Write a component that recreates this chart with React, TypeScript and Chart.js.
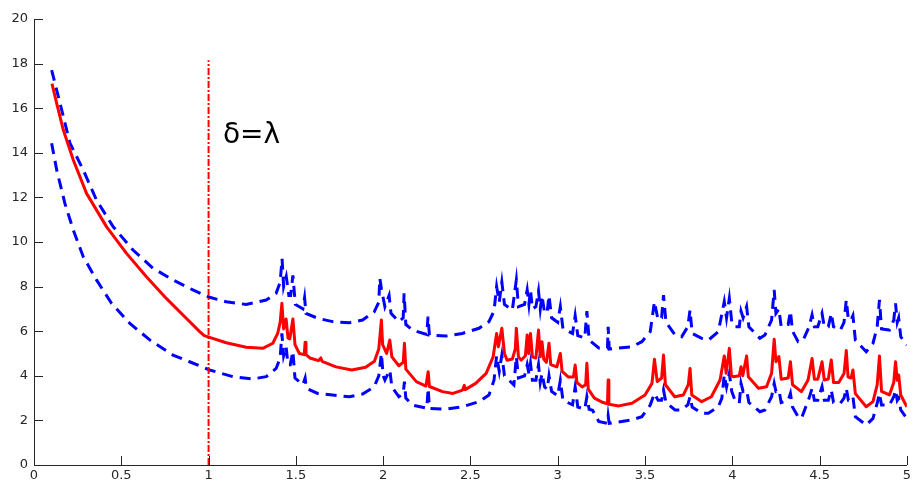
import React, { useEffect, useRef } from "react";
import { Chart, registerables } from "chart.js";

Chart.register(...registerables);

// ---- Data ----
const redX = [0.103, 0.13, 0.168, 0.225, 0.301, 0.415, 0.53, 0.644, 0.758, 0.872, 0.949, 0.975, 1.006, 1.101, 1.215, 1.31, 1.368, 1.396, 1.41, 1.42, 1.43, 1.444, 1.455, 1.465, 1.483, 1.495, 1.52, 1.548, 1.553, 1.558, 1.58, 1.63, 1.643, 1.65, 1.73, 1.82, 1.90, 1.95, 1.975, 1.99, 1.997, 2.02, 2.038, 2.05, 2.09, 2.115, 2.122, 2.13, 2.19, 2.245, 2.258, 2.265, 2.34, 2.40, 2.455, 2.465, 2.47, 2.53, 2.59, 2.63, 2.65, 2.66, 2.68, 2.695, 2.71, 2.74, 2.757, 2.763, 2.775, 2.79, 2.815, 2.825, 2.833, 2.844, 2.855, 2.875, 2.89, 2.90, 2.91, 2.92, 2.935, 2.95, 2.96, 2.995, 3.015, 3.025, 3.06, 3.09, 3.10, 3.11, 3.14, 3.16, 3.167, 3.175, 3.21, 3.26, 3.285, 3.289, 3.293, 3.35, 3.425, 3.50, 3.54, 3.554, 3.57, 3.595, 3.606, 3.617, 3.67, 3.72, 3.748, 3.758, 3.768, 3.825, 3.88, 3.93, 3.954, 3.965, 3.983, 3.995, 4.006, 4.04, 4.05, 4.06, 4.082, 4.092, 4.15, 4.196, 4.225, 4.24, 4.25, 4.267, 4.28, 4.32, 4.333, 4.345, 4.396, 4.434, 4.457, 4.47, 4.49, 4.514, 4.527, 4.55, 4.567, 4.58, 4.61, 4.64, 4.653, 4.663, 4.68, 4.691, 4.705, 4.767, 4.806, 4.83, 4.843, 4.855, 4.90, 4.925, 4.935, 4.945, 4.953, 4.965, 5.00];
const redY = [17.1, 16.22, 15.02, 13.68, 12.18, 10.69, 9.49, 8.44, 7.47, 6.58, 5.98, 5.8, 5.72, 5.48, 5.28, 5.23, 5.46, 5.9, 6.4, 7.25, 6.1, 6.55, 5.7, 5.65, 6.55, 5.4, 5.0, 4.95, 5.5, 4.95, 4.8, 4.68, 4.8, 4.65, 4.4, 4.26, 4.38, 4.65, 5.2, 6.5, 5.4, 5.0, 5.6, 4.85, 4.45, 4.6, 5.46, 4.3, 3.74, 3.54, 4.18, 3.52, 3.29, 3.21, 3.36, 3.57, 3.38, 3.66, 4.11, 4.85, 5.9, 5.3, 6.13, 5.0, 4.7, 4.75, 5.2, 6.13, 4.85, 4.7, 4.9, 5.83, 5.0, 5.9, 4.85, 4.8, 6.05, 4.85, 5.53, 4.75, 4.6, 5.46, 4.5, 4.4, 5.0, 4.2, 3.95, 3.95, 4.48, 3.7, 3.5, 3.6, 4.56, 3.4, 3.0, 2.8, 2.75, 3.81, 2.72, 2.65, 2.77, 3.14, 3.66, 4.74, 3.74, 3.9, 4.93, 3.6, 3.06, 3.14, 3.6, 4.33, 3.14, 2.84, 3.06, 3.81, 4.89, 4.11, 5.23, 4.0, 3.96, 4.0, 4.41, 4.0, 4.89, 3.96, 3.44, 3.51, 4.11, 5.64, 4.63, 4.86, 3.85, 3.9, 4.63, 3.6, 3.29, 3.81, 4.78, 3.85, 3.85, 4.63, 3.81, 3.85, 4.71, 3.7, 3.7, 4.1, 5.13, 3.95, 3.9, 4.26, 3.2, 2.61, 2.84, 3.59, 4.89, 3.3, 3.14, 3.7, 4.63, 3.8, 4.04, 3.14, 2.61];

const upperX = [0.101, 0.149, 0.206, 0.282, 0.358, 0.453, 0.567, 0.682, 0.796, 0.91, 1.006, 1.101, 1.215, 1.33, 1.387, 1.41, 1.421, 1.43, 1.445, 1.46, 1.47, 1.483, 1.497, 1.54, 1.55, 1.558, 1.625, 1.71, 1.806, 1.882, 1.949, 1.975, 1.981, 1.99, 2.01, 2.034, 2.045, 2.09, 2.115, 2.12, 2.13, 2.167, 2.25, 2.257, 2.265, 2.358, 2.453, 2.549, 2.606, 2.635, 2.65, 2.665, 2.68, 2.695, 2.74, 2.763, 2.775, 2.81, 2.825, 2.835, 2.844, 2.855, 2.875, 2.89, 2.90, 2.91, 2.925, 2.94, 2.95, 2.965, 3.00, 3.015, 3.03, 3.085, 3.10, 3.115, 3.155, 3.167, 3.18, 3.235, 3.285, 3.289, 3.295, 3.425, 3.482, 3.53, 3.554, 3.575, 3.595, 3.606, 3.62, 3.672, 3.71, 3.745, 3.758, 3.77, 3.825, 3.863, 3.92, 3.954, 3.967, 3.983, 3.997, 4.015, 4.04, 4.05, 4.062, 4.082, 4.095, 4.158, 4.187, 4.225, 4.24, 4.25, 4.267, 4.28, 4.32, 4.333, 4.345, 4.377, 4.406, 4.44, 4.457, 4.47, 4.49, 4.514, 4.527, 4.55, 4.567, 4.58, 4.619, 4.64, 4.653, 4.665, 4.68, 4.691, 4.705, 4.767, 4.806, 4.83, 4.843, 4.855, 4.90, 4.925, 4.935, 4.945, 4.953, 4.965, 5.00];
const upperY = [17.71, 16.22, 14.43, 13.23, 11.88, 10.69, 9.64, 8.82, 8.3, 7.85, 7.52, 7.32, 7.2, 7.4, 7.7, 8.2, 9.25, 8.0, 8.45, 7.6, 7.6, 8.5, 7.2, 7.0, 7.5, 6.8, 6.58, 6.43, 6.38, 6.5, 6.87, 7.3, 8.37, 7.9, 7.1, 7.6, 6.8, 6.43, 6.6, 7.7, 6.3, 6.05, 5.85, 6.65, 5.83, 5.78, 5.9, 6.13, 6.43, 6.9, 8.0, 7.3, 8.2, 7.2, 6.95, 8.3, 7.1, 7.2, 7.85, 7.2, 7.85, 7.0, 7.1, 7.8, 7.0, 7.6, 6.8, 6.9, 7.6, 6.6, 6.4, 7.1, 6.1, 5.9, 6.7, 5.8, 5.7, 6.9, 5.6, 5.25, 5.25, 6.2, 5.2, 5.3, 5.53, 5.98, 7.32, 6.5, 6.6, 7.62, 6.4, 5.83, 5.75, 6.2, 6.95, 5.9, 5.68, 5.6, 5.98, 7.32, 6.6, 7.47, 6.4, 6.2, 6.2, 6.9, 6.6, 7.1, 6.2, 5.68, 5.83, 6.5, 7.85, 6.8, 7.0, 6.2, 6.3, 6.9, 6.0, 5.53, 5.6, 6.2, 6.73, 6.2, 6.2, 6.8, 6.2, 6.2, 6.8, 6.2, 6.05, 6.4, 7.4, 6.5, 6.5, 6.7, 5.6, 5.08, 5.46, 6.2, 7.4, 6.1, 6.05, 6.5, 7.25, 6.4, 6.6, 5.75, 5.38];

const lowerX = [0.101, 0.13, 0.177, 0.225, 0.282, 0.358, 0.444, 0.549, 0.663, 0.796, 0.891, 1.006, 1.139, 1.253, 1.33, 1.387, 1.41, 1.42, 1.43, 1.444, 1.455, 1.468, 1.483, 1.495, 1.54, 1.553, 1.56, 1.625, 1.71, 1.806, 1.882, 1.949, 1.975, 1.99, 2.00, 2.01, 2.038, 2.05, 2.09, 2.115, 2.122, 2.13, 2.167, 2.25, 2.258, 2.265, 2.358, 2.453, 2.549, 2.606, 2.635, 2.65, 2.665, 2.68, 2.695, 2.749, 2.763, 2.775, 2.81, 2.825, 2.835, 2.844, 2.855, 2.875, 2.89, 2.90, 2.91, 2.925, 2.94, 2.95, 2.965, 3.00, 3.015, 3.03, 3.085, 3.10, 3.115, 3.155, 3.167, 3.18, 3.20, 3.235, 3.285, 3.289, 3.295, 3.425, 3.482, 3.53, 3.554, 3.575, 3.595, 3.606, 3.62, 3.672, 3.71, 3.745, 3.758, 3.77, 3.825, 3.863, 3.92, 3.94, 3.954, 3.967, 3.983, 3.997, 4.015, 4.04, 4.05, 4.062, 4.082, 4.095, 4.158, 4.187, 4.225, 4.24, 4.25, 4.267, 4.28, 4.32, 4.333, 4.345, 4.377, 4.396, 4.44, 4.457, 4.47, 4.49, 4.514, 4.527, 4.55, 4.567, 4.58, 4.619, 4.64, 4.653, 4.665, 4.68, 4.691, 4.705, 4.767, 4.806, 4.83, 4.843, 4.855, 4.90, 4.925, 4.935, 4.945, 4.953, 4.965, 5.00];
const lowerY = [14.43, 13.23, 11.73, 10.54, 9.34, 8.3, 7.25, 6.35, 5.61, 4.93, 4.63, 4.26, 3.96, 3.86, 3.96, 4.33, 4.8, 5.9, 4.9, 5.3, 4.5, 4.5, 5.1, 3.9, 3.6, 3.9, 3.44, 3.21, 3.14, 3.06, 3.18, 3.51, 4.0, 5.0, 4.0, 3.81, 4.26, 3.5, 3.06, 3.2, 3.74, 3.0, 2.69, 2.55, 3.44, 2.54, 2.5, 2.61, 2.84, 3.14, 3.8, 4.9, 4.2, 4.93, 4.0, 3.59, 4.86, 3.9, 4.0, 4.5, 4.1, 4.56, 3.8, 3.8, 4.5, 3.7, 4.1, 3.5, 3.4, 4.0, 3.3, 3.1, 3.8, 2.9, 2.7, 3.5, 2.6, 2.5, 3.06, 2.5, 2.45, 1.95, 1.87, 2.2, 1.87, 2.02, 2.17, 2.69, 3.21, 2.9, 2.9, 3.36, 2.8, 2.47, 2.47, 2.7, 3.06, 2.6, 2.32, 2.32, 2.61, 2.99, 4.04, 3.5, 4.11, 3.3, 2.91, 2.77, 3.66, 3.3, 3.36, 2.8, 2.39, 2.47, 3.06, 3.66, 3.3, 3.36, 2.8, 2.9, 3.21, 2.6, 2.17, 2.09, 3.0, 3.44, 2.9, 2.9, 3.51, 2.9, 2.9, 3.36, 2.8, 2.77, 3.0, 3.44, 2.9, 2.9, 3.06, 2.17, 1.79, 2.09, 2.77, 3.21, 2.69, 2.69, 3.06, 3.36, 2.9, 3.0, 2.47, 2.09];

const markerX = [1, 1];
const markerY = [0, 18.15];

const X_MIN = 0, X_MAX = 5, X_STEP = 0.5;
const Y_MIN = 0, Y_MAX = 20, Y_STEP = 2;

const LABEL_TEXT = "δ=λ";
const LABEL_X = 1.082;
const LABEL_Y = 14.44;

const toPoints = (xs: number[], ys: number[]) => xs.map((x, i) => ({ x, y: ys[i] }));

const AXIS_COLOR = "#262626";
const FONT = "'DejaVu Sans', sans-serif";

const extrasPlugin = {
  id: "extras",
  afterDraw(chart: any) {
    const { ctx, chartArea, scales } = chart;
    const xs = scales.x;
    const ys = scales.y;
    ctx.save();
    ctx.strokeStyle = AXIS_COLOR;
    ctx.lineWidth = 1;
    ctx.beginPath();
    xs.ticks.forEach((t: any) => {
      const px = Math.round(xs.getPixelForValue(t.value)) + 0.5;
      ctx.moveTo(px, chartArea.bottom);
      ctx.lineTo(px, chartArea.bottom - 9);
    });
    ys.ticks.forEach((t: any) => {
      const py = Math.round(ys.getPixelForValue(t.value)) + 0.5;
      ctx.moveTo(chartArea.left, py);
      ctx.lineTo(chartArea.left + 9, py);
    });
    ctx.stroke();
    ctx.fillStyle = "#000000";
    ctx.font = `28px ${FONT}`;
    ctx.textAlign = "left";
    ctx.textBaseline = "alphabetic";
    ctx.fillText(LABEL_TEXT, xs.getPixelForValue(LABEL_X), ys.getPixelForValue(LABEL_Y));
    ctx.restore();
  },
};

function App() {
  const ref = useRef<HTMLCanvasElement | null>(null);
  useEffect(() => {
    if (!ref.current) return;
    const chart = new Chart(ref.current, {
      type: "line",
      data: {
        datasets: [
          {
            label: "marker",
            data: toPoints(markerX, markerY),
            borderColor: "#ff0000",
            borderWidth: 2,
            borderDash: [7, 2, 2, 2],
            pointRadius: 0,
            fill: false,
          },
          {
            label: "mean",
            data: toPoints(redX, redY),
            borderColor: "#ff0000",
            borderWidth: 3,
            borderJoinStyle: "round",
            pointRadius: 0,
            tension: 0,
            fill: false,
          },
          {
            label: "upper",
            data: toPoints(upperX, upperY),
            borderColor: "#0000ff",
            borderWidth: 3,
            borderDash: [11, 7],
            pointRadius: 0,
            tension: 0,
            fill: false,
          },
          {
            label: "lower",
            data: toPoints(lowerX, lowerY),
            borderColor: "#0000ff",
            borderWidth: 3,
            borderDash: [11, 7],
            pointRadius: 0,
            tension: 0,
            fill: false,
          },
        ],
      },
      options: {
        animation: false,
        responsive: false,
        devicePixelRatio: 1,
        layout: { padding: { top: 19, right: 5, left: 0, bottom: 0 } },
        plugins: { legend: { display: false }, tooltip: { enabled: false } },
        scales: {
          x: {
            type: "linear",
            min: X_MIN,
            max: X_MAX,
            afterFit: (s: any) => { s.height = 18; },
            grid: { display: false, drawTicks: false },
            border: { display: true, color: AXIS_COLOR, width: 1 },
            ticks: {
              stepSize: X_STEP,
              autoSkip: false,
              maxRotation: 0,
              padding: 3,
              color: AXIS_COLOR,
              font: { family: FONT, size: 13 },
              callback: (v: any) => String(Number(v)),
            },
          },
          y: {
            type: "linear",
            min: Y_MIN,
            max: Y_MAX,
            afterFit: (s: any) => { s.width = 34; },
            grid: { display: false, drawTicks: false },
            border: { display: true, color: AXIS_COLOR, width: 1 },
            ticks: {
              stepSize: Y_STEP,
              padding: 6,
              color: AXIS_COLOR,
              font: { family: FONT, size: 13 },
              callback: (v: any) => String(Number(v)),
            },
          },
        },
      },
      plugins: [extrasPlugin],
    } as any);
    return () => chart.destroy();
  }, []);
  return (
    <div style={{ position: "absolute", left: 0, top: 0, width: 914, height: 483, background: "#ffffff" }}>
      <canvas ref={ref} width={914} height={483} style={{ display: "block" }} />
    </div>
  );
}

export default App;
